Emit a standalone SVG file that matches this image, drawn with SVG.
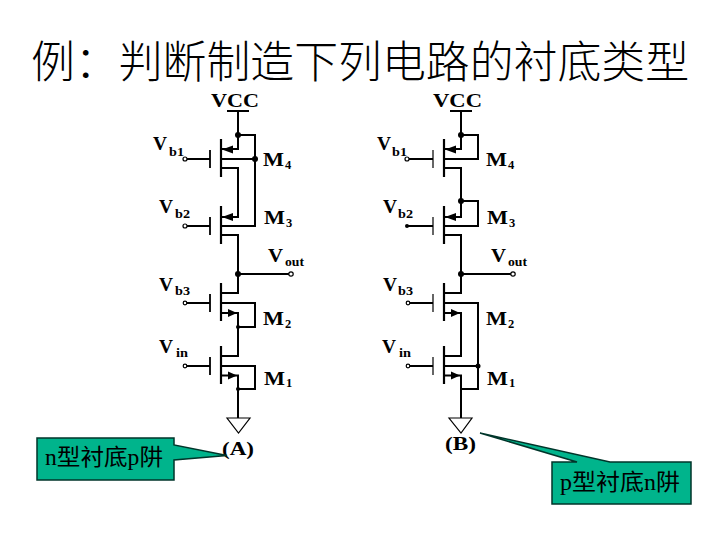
<svg xmlns="http://www.w3.org/2000/svg" width="720" height="540" viewBox="0 0 720 540">
<style>
.w{fill:none;stroke:#000;stroke-width:2;stroke-linecap:square;stroke-linejoin:miter}
.g{fill:none;stroke:#000;stroke-width:1.8}
.h{fill:none;stroke:#000;stroke-width:1.2}
.c{fill:none;stroke:#000;stroke-width:2.2}
.a{fill:#000;stroke:none}
.o{fill:#fff;stroke:#000;stroke-width:1.2}
.t{font-family:"Liberation Serif",serif;font-weight:bold;font-size:18px;fill:#000}
.s{font-family:"Liberation Serif",serif;font-weight:bold;font-size:12.500px;fill:#000}
.box{fill:#00b48c;stroke:#00352a;stroke-width:1.500}
.cj{font-family:"Liberation Serif","Noto Sans CJK SC",serif;font-size:22.500px;fill:#000}
.tt{font-family:"Noto Sans CJK SC",sans-serif;font-size:44px;font-weight:300;fill:#000}
.gnd{fill:#fff;stroke:#000;stroke-width:1.200}
</style>
<defs>
<path id="ch" class="c" d="M0-20V18"/>
</defs>
<g id="title"><text class="tt" x="31" y="78" textLength="658" lengthAdjust="spacingAndGlyphs">例：判断制造下列电路的衬底类型</text></g>
<g id="connectors">
<path class="w" d="M238 111V149H222M238 135H255V226H222M222 159H255M222 168H238V217H222M222 235H238V274M238 274H288M222 293H238V274M222 303H255V327H238M222 313H238V356H222M222 366H255V389H238M222 375.500H238V418"/>
<path class="g" d="M187 159H210M187 226H210M186 303H210M186 366H210M210 150V168M210 217V235M210 294V312M210 357V375"/>
<path class="w" d="M461 111V149H445M461 135H478V159H445M445 168H461V217H445M461 201H478V226H445M445 235H461V274M461 274H511M445 293H461V274M445 303H478V389H461M445 313H461V356H445M445 366H478M445 375.500H461V418"/>
<path class="g" d="M409 159H433M408 226H433M409 303H433M409 366H433"/>
<path class="h" d="M433 150V168M433 217V235M433 294V312M433 357V375"/>
</g>
<g id="circuit-a">
<g id="a-vcc"><path class="w" d="M228 111H248"/><text class="t" x="211" y="107" textLength="48" lengthAdjust="spacingAndGlyphs">VCC</text></g>
<g id="a-m4"><use href="#ch" x="221" y="159"/><path class="a" d="M222 149.500L233 145.500V153.500Z"/><text class="t" x="263" y="166" textLength="21" lengthAdjust="spacingAndGlyphs">M</text><text class="s" x="285" y="169">4</text><text class="t" x="153" y="150" textLength="14" lengthAdjust="spacingAndGlyphs">V</text><text class="s" x="169" y="156" textLength="15" lengthAdjust="spacingAndGlyphs">b1</text><circle class="o" cx="185" cy="159" r="2"/></g>
<g id="a-m3"><use href="#ch" x="221" y="226"/><path class="a" d="M222 217L233 213V221Z"/><text class="t" x="264" y="224" textLength="21" lengthAdjust="spacingAndGlyphs">M</text><text class="s" x="286" y="227">3</text><text class="t" x="159" y="213" textLength="14" lengthAdjust="spacingAndGlyphs">V</text><text class="s" x="175" y="218" textLength="15" lengthAdjust="spacingAndGlyphs">b2</text><circle class="o" cx="185" cy="226" r="2"/></g>
<g id="a-m2"><use href="#ch" x="221" y="303"/><path class="a" d="M237 313L228 309V317Z"/><text class="t" x="263" y="325" textLength="21" lengthAdjust="spacingAndGlyphs">M</text><text class="s" x="285" y="328">2</text><text class="t" x="159" y="291" textLength="14" lengthAdjust="spacingAndGlyphs">V</text><text class="s" x="175" y="295" textLength="15" lengthAdjust="spacingAndGlyphs">b3</text><circle class="o" cx="185" cy="303" r="1.800"/></g>
<g id="a-m1"><use href="#ch" x="221" y="366"/><path class="a" d="M237 375.500L228 371.500V379.500Z"/><text class="t" x="264" y="385" textLength="21" lengthAdjust="spacingAndGlyphs">M</text><text class="s" x="286" y="387">1</text><text class="t" x="159" y="353" textLength="14" lengthAdjust="spacingAndGlyphs">V</text><text class="s" x="176" y="357" textLength="12" lengthAdjust="spacingAndGlyphs">in</text><circle class="o" cx="185" cy="366" r="1.800"/></g>
<g id="a-vout"><text class="t" x="268" y="262" textLength="15" lengthAdjust="spacingAndGlyphs">V</text><text class="s" x="285" y="266" textLength="19" lengthAdjust="spacingAndGlyphs">out</text><circle class="o" cx="291" cy="274" r="2.200"/></g>
<g id="a-dots"><circle class="a" cx="238" cy="135" r="3"/><circle class="a" cx="255" cy="159" r="3"/><circle class="a" cx="238" cy="274" r="3"/><circle class="a" cx="238" cy="327" r="2"/><circle class="a" cx="238" cy="389" r="2"/></g>
<g id="a-gnd"><path class="gnd" d="M227 418H250L238.500 433Z"/><text class="t" x="222" y="455" textLength="32" lengthAdjust="spacingAndGlyphs">(A)</text></g>
</g>
<g id="circuit-b">
<g id="b-vcc"><path class="w" d="M451 111H471"/><text class="t" x="433" y="107" textLength="49" lengthAdjust="spacingAndGlyphs">VCC</text></g>
<g id="b-m4"><use href="#ch" x="444" y="159"/><path class="a" d="M445 149.500L456 145.500V153.500Z"/><text class="t" x="486" y="166" textLength="21" lengthAdjust="spacingAndGlyphs">M</text><text class="s" x="508" y="169">4</text><text class="t" x="377" y="150" textLength="14" lengthAdjust="spacingAndGlyphs">V</text><text class="s" x="392" y="156" textLength="15" lengthAdjust="spacingAndGlyphs">b1</text><circle class="o" cx="407" cy="159" r="2"/></g>
<g id="b-m3"><use href="#ch" x="444" y="226"/><path class="a" d="M445 217L456 213V221Z"/><text class="t" x="487" y="224" textLength="21" lengthAdjust="spacingAndGlyphs">M</text><text class="s" x="509" y="227">3</text><text class="t" x="383" y="213" textLength="14" lengthAdjust="spacingAndGlyphs">V</text><text class="s" x="398" y="218" textLength="15" lengthAdjust="spacingAndGlyphs">b2</text><circle class="a" cx="407" cy="226" r="2"/></g>
<g id="b-m2"><use href="#ch" x="444" y="303"/><path class="a" d="M460 313L451 309V317Z"/><text class="t" x="486" y="325" textLength="21" lengthAdjust="spacingAndGlyphs">M</text><text class="s" x="508" y="328">2</text><text class="t" x="383" y="291" textLength="14" lengthAdjust="spacingAndGlyphs">V</text><text class="s" x="398" y="295" textLength="15" lengthAdjust="spacingAndGlyphs">b3</text><circle class="o" cx="408" cy="303" r="1.800"/></g>
<g id="b-m1"><use href="#ch" x="444" y="366"/><path class="a" d="M460 375.500L451 371.500V379.500Z"/><text class="t" x="487" y="385" textLength="21" lengthAdjust="spacingAndGlyphs">M</text><text class="s" x="509" y="387">1</text><text class="t" x="382" y="353" textLength="14" lengthAdjust="spacingAndGlyphs">V</text><text class="s" x="399" y="357" textLength="12" lengthAdjust="spacingAndGlyphs">in</text><circle class="o" cx="408" cy="366" r="1.800"/></g>
<g id="b-vout"><text class="t" x="491" y="262" textLength="15" lengthAdjust="spacingAndGlyphs">V</text><text class="s" x="508" y="266" textLength="19" lengthAdjust="spacingAndGlyphs">out</text><circle class="o" cx="513" cy="274" r="2.200"/></g>
<g id="b-dots"><circle class="a" cx="461" cy="135" r="3"/><circle class="a" cx="461" cy="201" r="3"/><circle class="a" cx="461" cy="274" r="3"/><circle class="a" cx="478" cy="366" r="2.500"/></g>
<g id="b-gnd"><path class="gnd" d="M449 418H472L461 433Z"/><text class="t" x="445" y="450" textLength="31" lengthAdjust="spacingAndGlyphs">(B)</text></g>
</g>
<g id="callout-n"><path class="box" d="M37 438H174V445L227 455.500L174 460V480H37Z"/><text class="cj" x="45" y="465" textLength="118" lengthAdjust="spacingAndGlyphs">n型衬底p阱</text></g>
<g id="callout-p"><path class="box" d="M552 462H577L480 433L610 462H691V504H552Z"/><text class="cj" x="560" y="490" textLength="120" lengthAdjust="spacingAndGlyphs">p型衬底n阱</text></g>
</svg>
